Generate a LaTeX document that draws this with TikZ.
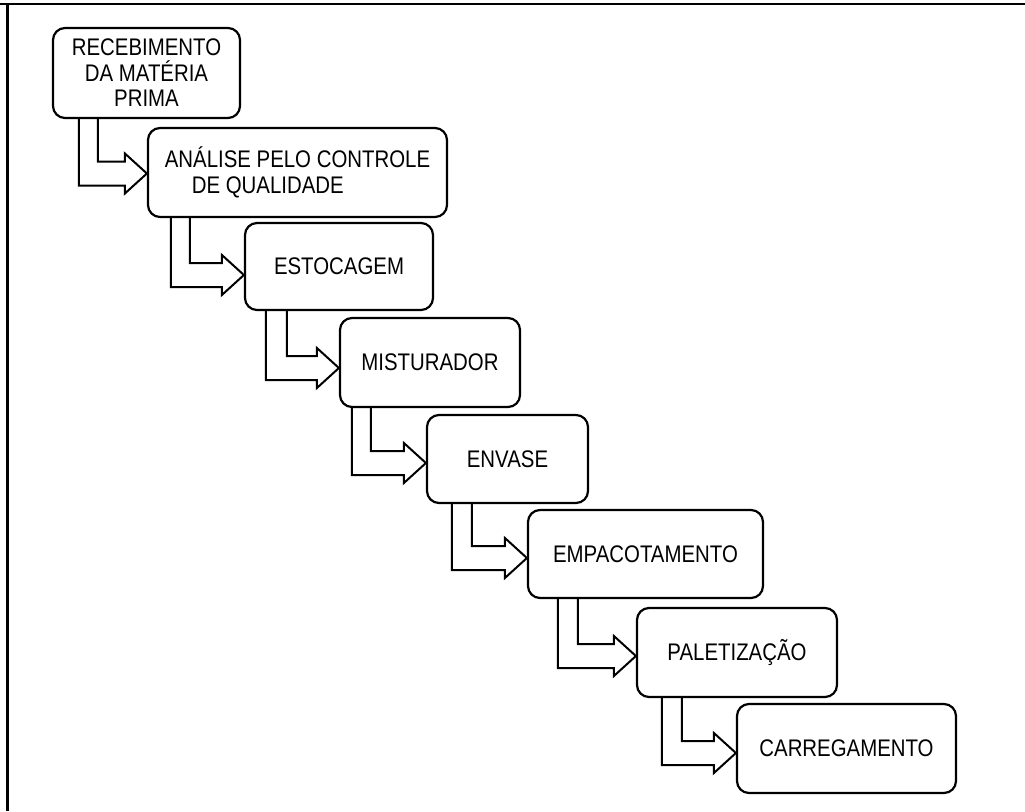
\documentclass[tikz,border=0pt]{standalone}
\usepackage{fontspec}
\setmainfont{Liberation Sans}[FakeStretch=0.85]
\usetikzlibrary{calc}
\tikzset{
  box/.style={draw, line width=2.2pt, rounded corners=12pt, fill=white, inner sep=0pt,
    align=center, font=\fontsize{24}{25.5}\selectfont},
  arr/.style={draw, line width=2pt, line join=miter},
  frame/.style={draw, line width=2.4pt},
}
% #1 source, #2 target, #3 outer offset, #4 inner offset, #5 tip drop
\newcommand\flowarrow[5]{%
  \draw[arr] let \p1=(#1.south west), \p2=(#2.west) in
    (\x1+#4pt,\y1) |- (\x2-22pt,\y2-#5pt+12pt) -- (\x2-22pt,\y2-#5pt+20pt)
    -- (\x2,\y2-#5pt) -- (\x2-22pt,\y2-#5pt-20pt) -- (\x2-22pt,\y2-#5pt-12pt)
    -| (\x1+#3pt,\y1);
}
\begin{document}
\begin{tikzpicture}[x=1pt,y=-1pt]
\useasboundingbox (0,0) rectangle (1025,811);
\coordinate (tl) at (0,4);
\coordinate (tr) at (1025,4);
\coordinate (lt) at (7.5,4);
\coordinate (lb) at (7.5,811);
\draw[frame] (tl) -- (tr);
\draw[frame] (lt) -- (lb);

\node[box, minimum width=187, minimum height=90] (b1) at (146.5,73) {RECEBIMENTO\\DA MATÉRIA\\PRIMA};
\node[box, minimum width=299, minimum height=89, align=left] (b2) at (297.5,172.5) {ANÁLISE PELO CONTROLE\\\hspace*{27pt}DE QUALIDADE};
\node[box, minimum width=188, minimum height=87] (b3) at (339,266.5) {ESTOCAGEM};
\node[box, minimum width=180, minimum height=89] (b4) at (430,362.5) {MISTURADOR};
\node[box, minimum width=161, minimum height=88] (b5) at (507.5,459) {ENVASE};
\node[box, minimum width=235, minimum height=88] (b6) at (645.5,554) {EMPACOTAMENTO};
\node[box, minimum width=200, minimum height=89] (b7) at (737,652.5) {PALETIZAÇÃO};
\node[box, minimum width=219, minimum height=89] (b8) at (846.5,748.5) {CARREGAMENTO};

\flowarrow{b1}{b2}{27}{46}{1}
\flowarrow{b2}{b3}{24}{43}{8.5}
\flowarrow{b3}{b4}{22}{43}{5.5}
\flowarrow{b4}{b5}{13}{32}{4}
\flowarrow{b5}{b6}{26}{46}{4}
\flowarrow{b6}{b7}{31}{51}{3.5}
\flowarrow{b7}{b8}{26}{46}{4.5}
\end{tikzpicture}
\end{document}
